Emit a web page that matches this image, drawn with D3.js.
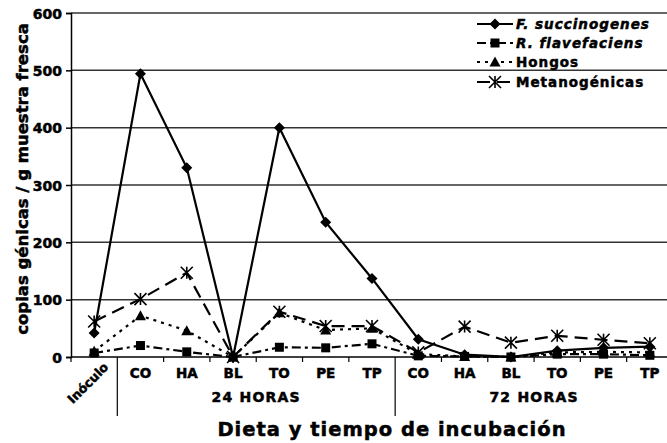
<!DOCTYPE html>
<html><head><meta charset="utf-8">
<script src="https://cdn.jsdelivr.net/npm/d3@7"></script>
<style>
html,body{margin:0;padding:0;background:#fff;}
svg text{font-family:"DejaVu Sans",sans-serif;font-weight:bold;fill:#000;stroke:#000;stroke-width:0.5px;}
</style></head>
<body><svg id="chart" width="667" height="443"></svg>
<script>
const categories = ["Inóculo","CO","HA","BL","TO","PE","TP","CO","HA","BL","TO","PE","TP"];
const groups = [{label:"24 HORAS", from:1, to:6},{label:"72 HORAS", from:7, to:12}];
const fSucc = [42,494,330,0,400,235,137,31,4,0,11,16,18];
const rFlav = [7,20,9,0,17,16,23,2,1,0,5,5,3];
const hongos = [10,72,46,0,77,47,50,5,1,0,8,9,8];
const metano = [62,101,147,0,79,54,54,8,53,25,37,30,24];
const yTicks = [0,100,200,300,400,500,600];
const seriesNames = ["F. succinogenes","R. flavefaciens","Hongos","Metanogénicas"];

const series = [
  {name:seriesNames[0], values:fSucc, dash:null, marker:"diamond", italic:true},
  {name:seriesNames[1], values:rFlav, dash:"9,4,3,4", marker:"square", italic:true},
  {name:seriesNames[2], values:hongos, dash:"3,5", marker:"triangle", italic:false},
  {name:seriesNames[3], values:metano, dash:"13,7", marker:"asterisk", italic:false}
];

const svg = d3.select("#chart");
const mLeft = 71, mRight = 673, mTop = 13, mBottom = 357;
const x = d3.scaleBand().domain(d3.range(categories.length)).range([mLeft,mRight]);
const y = d3.scaleLinear().domain([0,600]).range([mBottom,mTop]);

// gridlines
svg.append("g").selectAll("line").data(yTicks.filter(d=>d>0)).join("line")
  .attr("x1",mLeft).attr("x2",667).attr("y1",d=>y(d)).attr("y2",d=>y(d))
  .attr("stroke","#333").attr("stroke-width",1.5);

// y axis
const yAxis = svg.append("g").attr("transform",`translate(${mLeft},0)`)
  .call(d3.axisLeft(y).tickValues(yTicks).tickSize(5).tickPadding(4));
yAxis.attr("font-family",null).attr("font-size",null);
yAxis.select(".domain").attr("stroke","#000").attr("stroke-width",1.5);
yAxis.selectAll(".tick line").attr("stroke","#000").attr("stroke-width",1.5);
yAxis.selectAll(".tick text").style("font-size","14px").attr("dy","0.36em").attr("fill","#000");

// x axis line
svg.append("line").attr("x1",mLeft).attr("x2",667).attr("y1",mBottom).attr("y2",mBottom)
  .attr("stroke","#000").attr("stroke-width",1.5);
// ticks at band boundaries
const bounds = d3.range(categories.length+1).map(i=>mLeft + i*x.step());
svg.append("g").selectAll("line").data(bounds).join("line")
  .attr("x1",d=>d).attr("x2",d=>d).attr("y1",mBottom).attr("y2",(d,i)=>(i===1||i===7)?416:362)
  .attr("stroke","#000").attr("stroke-width",1.2);

// category labels
const cx0 = i => x(i)+x.bandwidth()/2;
svg.append("g").selectAll("text").data(categories).join("text")
  .attr("x",(d,i)=>i===0?cx0(i)+15:cx0(i))
  .attr("y",(d,i)=>i===0?368:378)
  .attr("text-anchor",(d,i)=>i===0?"end":"middle")
  .attr("transform",(d,i)=>i===0?`rotate(-45,${cx0(i)+15},368)`:null)
  .style("font-size",(d,i)=>i===0?"12.5px":"13.5px")
  .text(d=>d);

// group labels
svg.append("g").selectAll("text").data(groups).join("text")
  .attr("x",d=>(x(d.from)+x(d.to)+x.bandwidth())/2)
  .attr("y",402).attr("text-anchor","middle").style("font-size","14px").style("letter-spacing","1.2px")
  .text(d=>d.label);

// axis titles
svg.append("text").attr("x",392).attr("y",436).attr("text-anchor","middle")
  .style("font-size","19.5px").style("letter-spacing","1px").text("Dieta y tiempo de incubación");
svg.append("text").attr("transform","translate(28,179) rotate(-90)").attr("text-anchor","middle")
  .style("font-size","16.5px").text("copias génicas / g muestra fresca");

// markers
function drawMarker(g, type, cx, cy){
  if(type==="diamond"){
    g.append("path").attr("d",`M${cx},${cy-5.5}L${cx+5.5},${cy}L${cx},${cy+5.5}L${cx-5.5},${cy}Z`).attr("fill","#000");
  } else if(type==="square"){
    g.append("rect").attr("x",cx-4.5).attr("y",cy-4.5).attr("width",9).attr("height",9).attr("fill","#000");
  } else if(type==="triangle"){
    g.append("path").attr("d",`M${cx},${cy-5.5}L${cx+5.5},${cy+4.5}L${cx-5.5},${cy+4.5}Z`).attr("fill","#000");
  } else {
    const r=6;
    g.append("path").attr("d",`M${cx-r},${cy-r}L${cx+r},${cy+r}M${cx-r},${cy+r}L${cx+r},${cy-r}M${cx},${cy-r}L${cx},${cy+r}`)
      .attr("stroke","#000").attr("stroke-width",1.6).attr("fill","none");
  }
}

const line = d3.line().x((d,i)=>cx0(i)).y(d=>y(d));
const drawOrder = [3,2,1,0];
drawOrder.forEach(k=>{
  const s = series[k];
  svg.append("path").datum(s.values).attr("d",line).attr("fill","none")
    .attr("stroke","#000").attr("stroke-width",2.2)
    .attr("stroke-dasharray",s.dash);
});
drawOrder.forEach(k=>{
  const s = series[k];
  const g = svg.append("g");
  s.values.forEach((v,i)=>drawMarker(g,s.marker,cx0(i),y(v)));
});

// legend
const legY = [24,43,62,82];
const lg = svg.append("g");
series.forEach((s,i)=>{
  const yy = legY[i];
  lg.append("line").attr("x1",477).attr("x2",513).attr("y1",yy).attr("y2",yy)
    .attr("stroke","#000").attr("stroke-width",2).attr("stroke-dasharray",s.dash);
  drawMarker(lg,s.marker,495,yy);
  lg.append("text").attr("x",516).attr("y",yy).attr("dy","0.36em")
    .style("font-size","13.5px").style("letter-spacing","1px")
    .style("font-style",s.italic?"italic":"normal").text(s.name);
});
</script></body></html>
